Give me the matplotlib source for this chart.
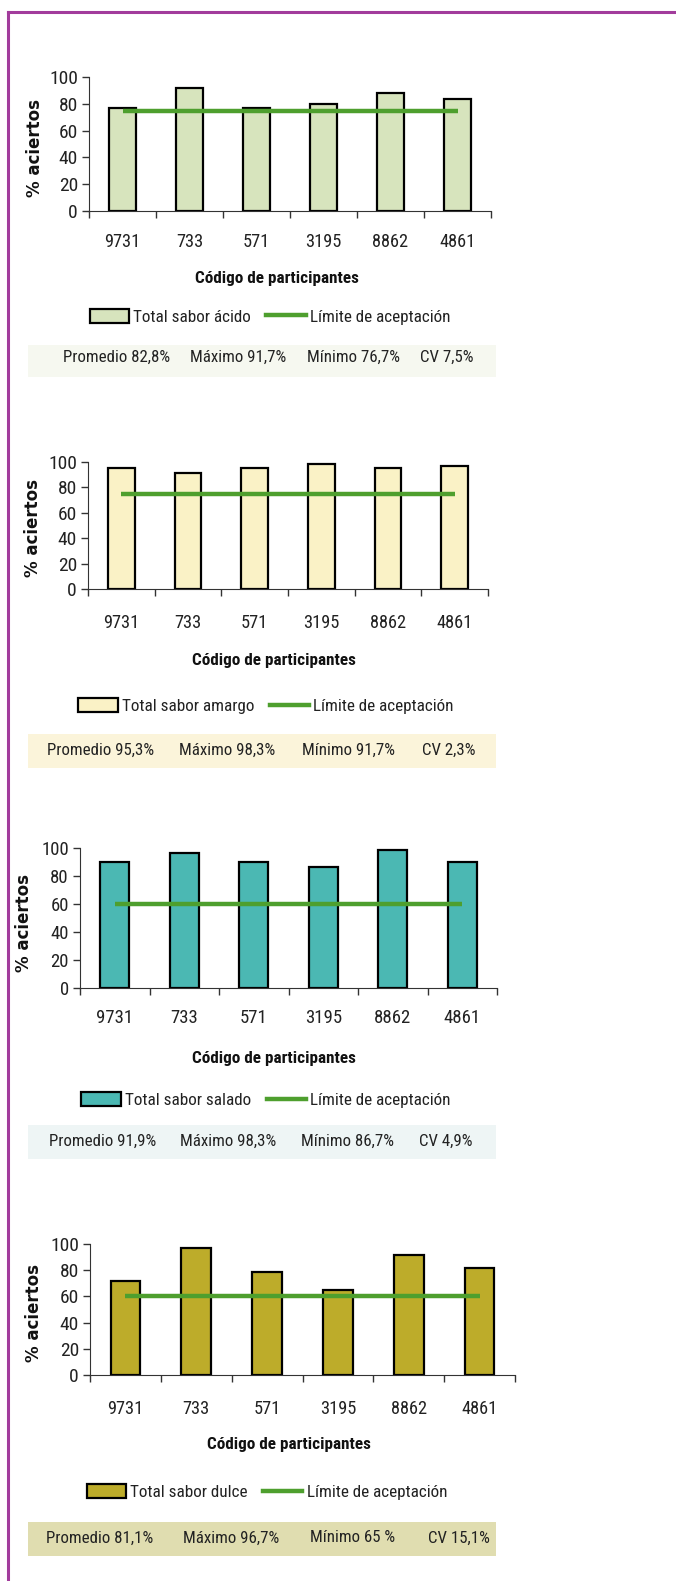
import numpy as np
import matplotlib
matplotlib.use("Agg")
import matplotlib.pyplot as plt
from matplotlib.patches import Rectangle, Patch
from matplotlib.lines import Line2D

# datos
codigos = ["9731", "733", "571", "3195", "8862", "4861"]

acido = [76.7, 91.7, 76.7, 80.0, 88.3, 83.3]
amargo = [95.0, 91.7, 95.0, 98.3, 95.0, 96.7]
salado = [90.0, 96.7, 90.0, 86.7, 98.3, 90.0]
dulce = [71.7, 96.7, 78.3, 65.0, 91.7, 81.7]

limite_acido = 75
limite_amargo = 75
limite_salado = 60
limite_dulce = 60

series_nombres = ["Total sabor ácido", "Total sabor amargo", "Total sabor salado", "Total sabor dulce"]

stats_acido = ["Promedio 82,8%", "Máximo 91,7%", "Mínimo 76,7%", "CV 7,5%"]
stats_amargo = ["Promedio 95,3%", "Máximo 98,3%", "Mínimo 91,7%", "CV 2,3%"]
stats_salado = ["Promedio 91,9%", "Máximo 98,3%", "Mínimo 86,7%", "CV 4,9%"]
stats_dulce = ["Promedio 81,1%", "Máximo 96,7%", "Mínimo 65 %", "CV 15,1%"]

W, H = 676, 1581
NARROW = ["Roboto Condensed", "DejaVu Sans"]
verde = "#4E9F2E"

fig = plt.figure(figsize=(W / 100, H / 100), dpi=100)


def fx(px):
    return px / W


def fy(py):
    return 1 - py / H


# marco morado
fig.add_artist(Line2D([fx(8), fx(8)], [fy(12), 0], color="#A23C9C", lw=2.2))
fig.add_artist(Line2D([fx(8), 1], [fy(12), fy(12)], color="#A23C9C", lw=2.2))


def panel(valores, limite, nombre, stats, color, caja, tick_pad, xsize, ysize,
          xlab, ylab, leg, banda, banda_color, stats_x, stats_y, bar_w=0.4):
    l, r, t, b = caja
    ax = fig.add_axes([fx(l), fy(b), fx(r - l), (b - t) / H])
    x = np.arange(len(codigos))
    ax.bar(x, valores, width=bar_w, color=color, edgecolor="black", lw=1.6, zorder=2)
    ax.plot([x[0], x[-1]], [limite, limite], color=verde, lw=3.2, zorder=3,
            solid_capstyle="butt")
    ax.set_xlim(-0.5, len(codigos) - 0.5)
    ax.set_ylim(0, 100)
    ax.set_yticks([0, 20, 40, 60, 80, 100])
    ax.set_xticks(x)
    ax.set_xticklabels(codigos)
    ax.set_xticks(np.arange(-0.5, len(codigos)), minor=True)
    ax.tick_params(axis="x", which="major", length=0, pad=tick_pad,
                   labelsize=xsize)
    ax.tick_params(axis="x", which="minor", length=5, width=1, color="#333333",
                   direction="out")
    ax.tick_params(axis="y", length=5, width=1, color="#333333", pad=3,
                   labelsize=ysize)
    for lab in ax.get_xticklabels() + ax.get_yticklabels():
        lab.set_family(NARROW)
        lab.set_color("#222222")
    ax.spines["top"].set_visible(False)
    ax.spines["right"].set_visible(False)
    ax.spines["left"].set_color("#333333")
    ax.spines["bottom"].set_color("#333333")
    ax.patch.set_alpha(0)

    fig.text(fx(xlab[0]), fy(xlab[1]), "Código de participantes", ha="center",
             va="center", fontsize=12.3, fontweight="bold", family=NARROW,
             color="#111111")
    fig.text(fx(ylab[0]), fy(ylab[1]), "% aciertos", ha="center", va="center",
             rotation=90, fontsize=12, fontweight="bold", family=["DejaVu Sans"],
             color="#111111")

    handles = [Patch(facecolor=color, edgecolor="black", lw=1.6),
               Line2D([0], [0], color=verde, lw=3.2)]
    lg = fig.legend(handles, [nombre, "Límite de aceptación"], loc="center",
                    bbox_to_anchor=(fx(leg[0]), fy(leg[1])), ncol=2,
                    frameon=False, handlelength=2.3, handleheight=0.9,
                    handletextpad=0.25, columnspacing=0.9, borderpad=0,
                    prop={"family": NARROW, "size": 12.3})
    for t_ in lg.get_texts():
        t_.set_color("#222222")

    fig.add_artist(Rectangle((fx(28), fy(banda[1])), fx(496 - 28),
                             (banda[1] - banda[0]) / H, color=banda_color,
                             lw=0, zorder=0))
    for s, sx in zip(stats, stats_x):
        fig.text(fx(sx), fy(stats_y), s, ha="left", va="center", fontsize=12.2,
                 family=NARROW, color="#222222")
    return ax


panel(acido, limite_acido, series_nombres[0], stats_acido, "#D7E4BD",
      (89, 491, 77, 211), 16, 13.2, 14, (277, 279), (35, 148), (270, 317),
      (345, 377), "#F6F8F0", [63, 190, 307, 420], 357)

panel(amargo, limite_amargo, series_nombres[1], stats_amargo, "#FAF2C6",
      (88, 488, 462, 589), 18, 13.2, 14, (274, 660), (33, 528), (266, 706),
      (734, 768), "#FBF4DA", [47, 179, 302, 422], 750)

panel(salado, limite_salado, series_nombres[2], stats_salado, "#4BB8B3",
      (80, 497, 848, 988), 15, 13.5, 13.5, (274, 1058), (24, 923), (266, 1100),
      (1125, 1159), "#EEF5F5", [49, 180, 301, 419], 1141, bar_w=0.42)

panel(dulce, limite_dulce, series_nombres[3], stats_dulce, "#BDAC2A",
      (90, 515, 1244, 1375), 18, 13.2, 14, (289, 1445), (34, 1313), (267, 1492),
      (1522, 1556), "#E0DDB0", [46, 183, 310, 428], 1538, bar_w=0.42)

fig.savefig("out.png", dpi=100)
